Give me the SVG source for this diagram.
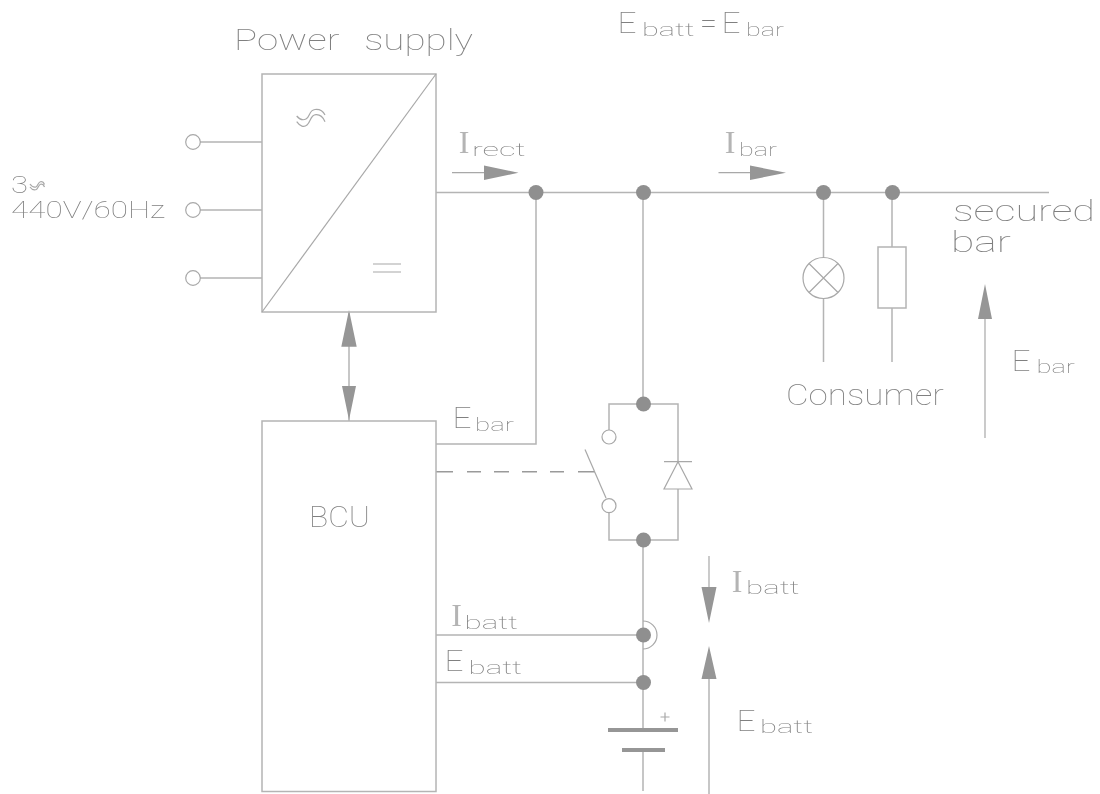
<svg xmlns="http://www.w3.org/2000/svg" width="1100" height="794" viewBox="0 0 1100 794">
<style>
.w{fill:none;stroke:#b4b4b4;stroke-width:1.5}
.t{fill:none;stroke:#a8a8a8;stroke-width:1.2}
.k{fill:none;stroke:#9a9a9a;stroke-width:1.5}
.d{fill:#8f8f8f;stroke:none}
.h{fill:#969696;stroke:none}
text{font-family:Roboto,"Liberation Sans",sans-serif;font-weight:100;fill:#808080}
.l{font-size:30px}.n{font-size:24px}.s{font-size:19px}.e{font-size:30px}
.i{font-family:"Liberation Serif",serif;font-weight:400;font-size:32px;fill:#b4b4b4}
</style>
<defs><filter id="gray" x="0" y="0" width="1100" height="794" filterUnits="userSpaceOnUse"><feOffset dx="0" dy="0"/></filter></defs>
<rect width="1100" height="794" fill="#fff"/>
<g id="connectors">
<path class="w" d="M200 142H262M200 210H262M200 278H262"/>
<path class="w" d="M436 192.500H1049"/>
<path class="w" d="M536 192V444H436"/>
<path class="w" d="M643 192V404"/>
<path class="w" d="M823.500 192V257M823.500 299V362"/>
<path class="w" d="M892 192V247M892 308V362"/>
<path class="w" d="M349 312V421"/>
<path class="h" d="M349 310L356.700 346.700H341.300ZM349 420L356 386H342Z"/>
<path class="w" d="M643 540V730M643 750V791"/>
<path class="w" d="M436 635H643M436 682.500H643"/>
<path class="k" d="M436 471.700H453M467 471.700H481M494 471.700H509M522 471.700H537M550 471.700H564M578 471.700H595"/>
<path class="t" d="M452 172.700H484M718.500 172.700H750M985 319V438M709 556V587"/>
<path class="w" d="M709 679V794"/>
<path class="h" d="M518.500 172.700L484 165.500V180ZM786 172.700L750 165.500V180ZM985 284L978 319H992ZM709 623L701.500 587H716.500ZM709 646L701.500 679H716.500Z"/>
</g>
<g id="power-supply">
<rect class="w" x="262" y="74" width="174" height="238"/>
<path class="t" d="M262 312L436 74"/>
<path class="t" d="M296.700 116C300 120 303 120.500 306 119C310 117 309 110 315 109.500C320 109 323 111 325 115M296.700 121.700C300 126.500 304 127.500 307 125C311 122 310 115 316 114.700C320 114.500 323 117 325 121.700"/>
<path class="t" d="M373 264H401M373 272H401"/>
</g>
<g id="terminals">
<circle class="t" cx="193" cy="142" r="7.300"/>
<circle class="t" cx="193" cy="210" r="7.300"/>
<circle class="t" cx="193" cy="278" r="7.300"/>
</g>
<g id="bcu"><rect class="w" x="262" y="421" width="174" height="370.500"/></g>
<g id="lamp">
<circle class="t" cx="823.500" cy="278" r="20.500"/>
<path class="t" d="M809 263.500L838 292.500M838 263.500L809 292.500"/>
</g>
<g id="resistor"><rect class="w" x="878" y="247" width="28" height="61"/></g>
<g id="switch">
<path class="w" d="M609 430V404H678V462M678 489V540H609V513"/>
<circle class="t" cx="609" cy="437" r="7"/>
<circle class="t" cx="609" cy="505.700" r="7"/>
<path class="t" d="M585 449.500L606 498"/>
<path class="t" d="M664 461.700H692M678 461.700L692 489H664Z"/>
</g>
<g id="battery">
<path d="M608 730H678M622 750H665" fill="none" stroke="#969696" stroke-width="4"/>
<path class="t" d="M660.500 717H669.500M665 712.500V721.500"/>
<path class="t" d="M643 621A14 14 0 0 1 643 649"/>
</g>
<g id="junctions">
<circle class="d" cx="536" cy="192.500" r="7.500"/>
<circle class="d" cx="643.500" cy="192.500" r="7.500"/>
<circle class="d" cx="823.500" cy="192.500" r="7.500"/>
<circle class="d" cx="892.500" cy="192.500" r="7.500"/>
<circle class="d" cx="643.500" cy="404" r="7.500"/>
<circle class="d" cx="643.500" cy="540" r="7.500"/>
<circle class="d" cx="643.500" cy="635" r="7.500"/>
<circle class="d" cx="643.500" cy="682.500" r="7.500"/>
</g>
<path class="t" d="M30 184C32 187 34 187.500 36 187C38 186 38 182 41 181.500C43 181.500 44 183 44.500 184.500M30 187C32 190 34 190.500 36.500 189.500C38.500 188 38.500 184.500 41 184C43 184 44 185.500 44.500 187"/>
<g id="labels" filter="url(#gray)">
<text class="l" x="234" y="50" textLength="239" lengthAdjust="spacingAndGlyphs" style="word-spacing:12px">Power supply</text>
<text class="n" x="11" y="193" textLength="17" lengthAdjust="spacingAndGlyphs">3</text>
<text class="n" x="11" y="218" textLength="154" lengthAdjust="spacingAndGlyphs">440V/60Hz</text>
<text><tspan class="i" x="458.700" y="153">I</tspan><tspan class="s" x="472" y="155.700" textLength="53.600" lengthAdjust="spacingAndGlyphs">rect</tspan></text>
<text><tspan class="i" x="724.700" y="153">I</tspan><tspan class="s" x="739" y="155.700" textLength="38" lengthAdjust="spacingAndGlyphs">bar</tspan></text>
<text><tspan class="e" x="617.500" y="33" textLength="19" lengthAdjust="spacingAndGlyphs">E</tspan><tspan class="s" x="642" y="36" textLength="52.500" lengthAdjust="spacingAndGlyphs">batt</tspan><tspan class="l" x="700" y="33" textLength="17" lengthAdjust="spacingAndGlyphs">=</tspan><tspan class="e" x="721.500" y="33" textLength="19" lengthAdjust="spacingAndGlyphs">E</tspan><tspan class="s" x="746" y="36" textLength="38" lengthAdjust="spacingAndGlyphs">bar</tspan></text>
<text class="l" x="953" y="220.700" textLength="142" lengthAdjust="spacingAndGlyphs">secured</text>
<text class="l" x="951" y="251.700" textLength="60" lengthAdjust="spacingAndGlyphs">bar</text>
<text class="l" x="786" y="405" textLength="158" lengthAdjust="spacingAndGlyphs">Consumer</text>
<text><tspan class="e" x="1011.500" y="370.700" textLength="19" lengthAdjust="spacingAndGlyphs">E</tspan><tspan class="s" x="1036.500" y="373" textLength="38.500" lengthAdjust="spacingAndGlyphs">bar</tspan></text>
<text><tspan class="e" x="452.500" y="427.700" textLength="19" lengthAdjust="spacingAndGlyphs">E</tspan><tspan class="s" x="475" y="431" textLength="39" lengthAdjust="spacingAndGlyphs">bar</tspan></text>
<text><tspan class="i" x="451.200" y="625.700">I</tspan><tspan class="s" x="464.500" y="628.700" textLength="53.500" lengthAdjust="spacingAndGlyphs">batt</tspan></text>
<text><tspan class="e" x="444.500" y="671" textLength="19" lengthAdjust="spacingAndGlyphs">E</tspan><tspan class="s" x="468.500" y="673.700" textLength="53.500" lengthAdjust="spacingAndGlyphs">batt</tspan></text>
<text><tspan class="i" x="731.700" y="591.700">I</tspan><tspan class="s" x="746" y="594" textLength="53.500" lengthAdjust="spacingAndGlyphs">batt</tspan></text>
<text><tspan class="e" x="736.500" y="730.700" textLength="19" lengthAdjust="spacingAndGlyphs">E</tspan><tspan class="s" x="760" y="733" textLength="53" lengthAdjust="spacingAndGlyphs">batt</tspan></text>
<text class="l" x="309" y="527" textLength="61" lengthAdjust="spacingAndGlyphs">BCU</text>
</g>
</svg>
